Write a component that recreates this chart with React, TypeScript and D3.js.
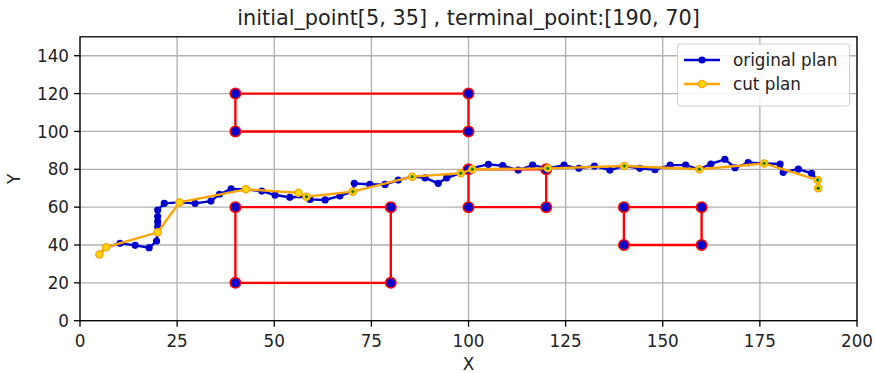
import React from "react";
import * as d3 from "d3";

const title = "initial_point[5, 35] , terminal_point:[190, 70]";
const xTicks = [0, 25, 50, 75, 100, 125, 150, 175, 200];
const yTicks = [0, 20, 40, 60, 80, 100, 120, 140];

const originalX = [5, 6.7, 10.3, 14.2, 17.8, 19.7, 20, 20, 20, 20, 20, 21.7, 25.6, 29.6, 33.7, 35.9, 38.9, 42.7, 46.8, 50.2, 54, 58.3, 59.2, 63.1, 66.9, 70.2, 70.6, 74.6, 78.5, 81.9, 85.5, 88.8, 92.2, 94.4, 98, 100.5, 105.1, 108.8, 112.8, 116.5, 120.4, 124.6, 128.4, 132.4, 136.4, 140.1, 144.1, 148, 151.9, 155.9, 159.4, 162.4, 166, 168.6, 172, 176.1, 180.2, 181, 184.9, 188.3, 189.9, 190];
const originalY = [35, 38.8, 40.9, 39.8, 38.6, 42.1, 46.7, 49.7, 52.3, 55, 58.5, 62, 62.5, 62, 63.2, 66.8, 69.6, 69.4, 68.5, 66.4, 65.2, 65.5, 64.1, 63.8, 65.9, 68.2, 72.6, 72, 72, 74.3, 76.1, 75.5, 72.6, 75.5, 77.9, 80.5, 82.6, 81.9, 79.6, 82.2, 80.5, 82.2, 80.5, 81.7, 79.6, 81.7, 80.5, 79.8, 82.2, 82.2, 80, 82.8, 85.3, 80.8, 83.5, 83.1, 82.8, 78.4, 80.1, 77.9, 74.3, 70];

const cutX = [5, 6.7, 20, 25.6, 42.7, 56.2, 58.3, 70.2, 85.5, 98, 101, 120.4, 140.1, 159.4, 176.1, 189.9, 190];
const cutY = [35, 38.8, 46.7, 62.5, 69.4, 67.6, 65.5, 68.2, 76.1, 77.9, 80, 80.5, 81.7, 80, 83.1, 74.3, 70];
// points of the cut plan that coincide with the original plan (green centres)
const sharedX = [58.3, 70.2, 85.5, 98, 101, 120.4, 140.1, 159.4, 176.1, 189.9, 190];
const sharedY = [65.5, 68.2, 76.1, 77.9, 80, 80.5, 81.7, 80, 83.1, 74.3, 70];

// obstacles: [x0, x1, y0, y1]
const obstacleX0 = [40, 40, 100, 140];
const obstacleX1 = [100, 80, 120, 160];
const obstacleY0 = [100, 20, 60, 40];
const obstacleY1 = [120, 60, 80, 60];

const legendLabels = ["original plan", "cut plan"];

const W = 875, H = 373;
const L = 80, R = 857, T = 36.8, B = 320.7;
const FONT = "DejaVu Sans, sans-serif";
const BLUE = "#0000cd";
const ORANGE = "#ffa500";
const GOLD = "#ffd700";
const FS = 16.8;

export default function App() {
  const x = d3.scaleLinear().domain([0, 200]).range([L, R]);
  const y = d3.scaleLinear().domain([0, 150]).range([B, T]);
  const line = d3.line<[number, number]>().x(d => x(d[0])).y(d => y(d[1]));
  const orig: [number, number][] = originalX.map((v, i) => [v, originalY[i]]);
  const cut: [number, number][] = cutX.map((v, i) => [v, cutY[i]]);

  const rects = obstacleX0.map((_, i) => {
    const pts: [number, number][] = [
      [obstacleX0[i], obstacleY0[i]],
      [obstacleX1[i], obstacleY0[i]],
      [obstacleX1[i], obstacleY1[i]],
      [obstacleX0[i], obstacleY1[i]],
      [obstacleX0[i], obstacleY0[i]],
    ];
    return pts;
  });

  return (
    <svg width={W} height={H} style={{ position: "absolute", left: 0, top: 0, background: "#fff" }}>
      <rect x={0} y={0} width={W} height={H} fill="#fff" />
      {/* grid */}
      {xTicks.map(t => (
        <line key={"gx" + t} x1={x(t)} x2={x(t)} y1={T} y2={B} stroke="#b0b0b0" strokeWidth={1.3} />
      ))}
      {yTicks.map(t => (
        <line key={"gy" + t} x1={L} x2={R} y1={y(t)} y2={y(t)} stroke="#b0b0b0" strokeWidth={1.3} />
      ))}
      <defs>
        <clipPath id="clip">
          <rect x={L} y={T} width={R - L} height={B - T} />
        </clipPath>
      </defs>
      {/* original plan */}
      <g clipPath="url(#clip)">
        <path d={line(orig) || ""} fill="none" stroke={BLUE} strokeWidth={2.4} />
        {orig.map((d, i) => (
          <circle key={"o" + i} cx={x(d[0])} cy={y(d[1])} r={3.6} fill={BLUE} />
        ))}
        {/* obstacles */}
        {rects.map((pts, i) => (
          <g key={"r" + i}>
            <path d={line(pts) || ""} fill="none" stroke="#ff0000" strokeWidth={2.4} />
            {pts.slice(0, 4).map((d, j) => (
              <circle key={j} cx={x(d[0])} cy={y(d[1])} r={5.2} fill={BLUE} stroke="#ff0000" strokeWidth={1.6} />
            ))}
          </g>
        ))}
        {/* cut plan */}
        <path d={line(cut) || ""} fill="none" stroke={ORANGE} strokeWidth={2.4} />
        {cut.map((d, i) => (
          <circle key={"c" + i} cx={x(d[0])} cy={y(d[1])} r={3.6} fill={GOLD} stroke={ORANGE} strokeWidth={1.3} />
        ))}
        {sharedX.map((v, i) => (
          <circle key={"s" + i} cx={x(v)} cy={y(sharedY[i])} r={1.7} fill="#1a7a1a" />
        ))}
      </g>
      {/* spines */}
      <rect x={L} y={T} width={R - L} height={B - T} fill="none" stroke="#000" strokeWidth={1.3} />
      {/* ticks */}
      {xTicks.map(t => (
        <g key={"tx" + t}>
          <line x1={x(t)} x2={x(t)} y1={B} y2={B + 6} stroke="#000" strokeWidth={1.3} />
          <text x={x(t)} y={B + 26} textAnchor="middle" fontFamily={FONT} fontSize={FS} fill="#222">{t}</text>
        </g>
      ))}
      {yTicks.map(t => (
        <g key={"ty" + t}>
          <line x1={L - 6} x2={L} y1={y(t)} y2={y(t)} stroke="#000" strokeWidth={1.3} />
          <text x={L - 11} y={y(t) + 6.1} textAnchor="end" fontFamily={FONT} fontSize={FS} fill="#222">{t}</text>
        </g>
      ))}
      <text x={(L + R) / 2} y={370} textAnchor="middle" fontFamily={FONT} fontSize={FS} fill="#222">X</text>
      <text transform={`translate(20,${(T + B) / 2}) rotate(-90)`} textAnchor="middle" fontFamily={FONT} fontSize={FS} fill="#222">Y</text>
      <text x={(L + R) / 2} y={25} textAnchor="middle" fontFamily={FONT} fontSize={20.8} fill="#222">{title}</text>
      {/* legend */}
      <g>
        <rect x={677.5} y={44} width={172} height={62} rx={3} fill="#fff" fillOpacity={0.85} stroke="#d0d0d0" />
        {legendLabels.map((lab, i) => {
          const ly = 60 + i * 24;
          const isOrig = i === 0;
          return (
            <g key={lab}>
              <line x1={684} x2={720} y1={ly} y2={ly} stroke={isOrig ? BLUE : ORANGE} strokeWidth={2.4} />
              <circle cx={702} cy={ly} r={3.6} fill={isOrig ? BLUE : GOLD} stroke={isOrig ? "none" : ORANGE} strokeWidth={1.3} />
              <text x={733} y={ly + 6} fontFamily={FONT} fontSize={FS} fill="#222">{lab}</text>
            </g>
          );
        })}
      </g>
    </svg>
  );
}
